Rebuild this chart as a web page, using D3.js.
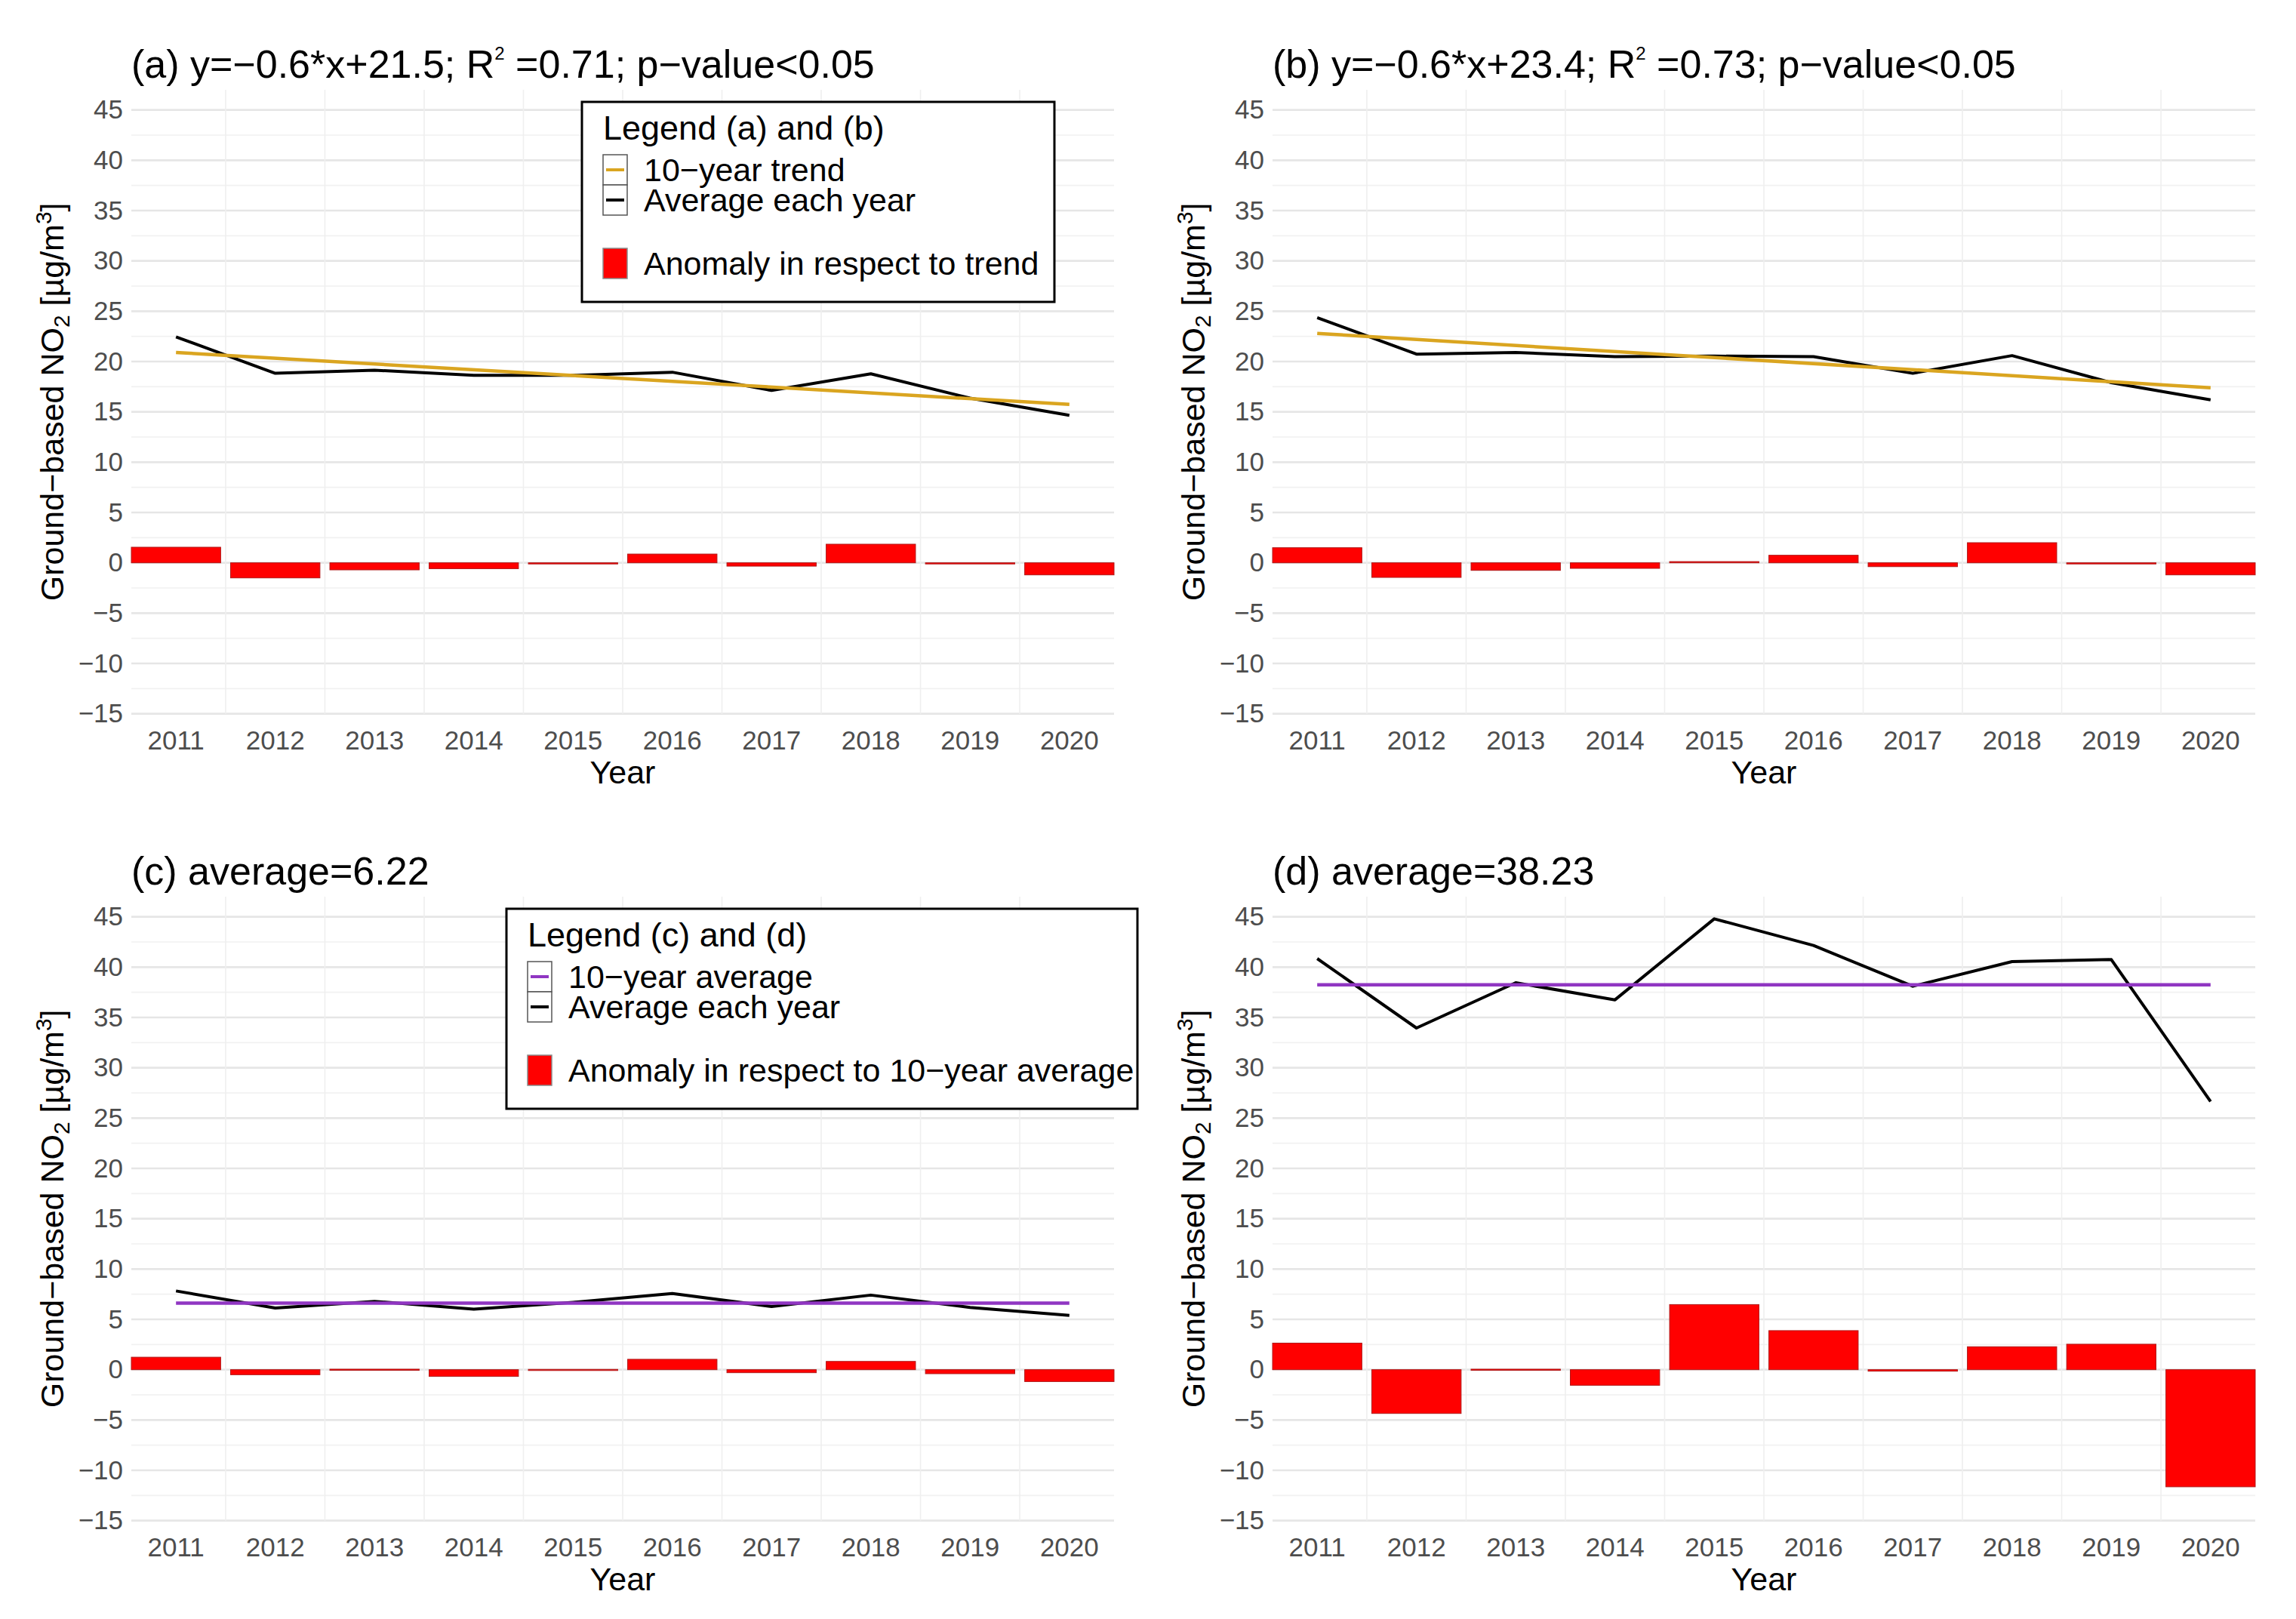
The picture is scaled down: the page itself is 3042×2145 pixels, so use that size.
<!DOCTYPE html>
<html>
<head>
<meta charset="utf-8">
<script src="https://cdn.jsdelivr.net/npm/d3@7"></script>
<style>
  body { margin: 0; background: #fff; }
  text { font-family: "Liberation Sans", Arial, Helvetica, sans-serif; }
</style>
</head>
<body>
<svg id="chart" width="3042" height="2145"></svg>
<script>
// years on the x axis
const years = ['2011', '2012', '2013', '2014', '2015', '2016', '2017', '2018', '2019', '2020'];
const yTicks = [-15, -10, -5, 0, 5, 10, 15, 20, 25, 30, 35, 40, 45];

// (a)
const avgA = [22.45, 18.83, 19.14, 18.63, 18.63, 18.94, 17.13, 18.78, 16.36, 14.65];
const trendA = [20.9, 15.74]; // 2011, 2020
const anomA = [1.55, -1.5, -0.7, -0.58, -0.03, 0.87, -0.33, 1.85, -0.04, -1.2];
// (b)
const avgB = [24.36, 20.74, 20.9, 20.49, 20.54, 20.49, 18.83, 20.59, 17.9, 16.2];
const trendB = [22.8, 17.39];
const anomB = [1.5, -1.45, -0.75, -0.55, 0.12, 0.75, -0.38, 2.0, -0.05, -1.2];
// (c)
const avgC = [7.82, 6.12, 6.79, 6.02, 6.69, 7.57, 6.28, 7.41, 6.18, 5.4];
const meanC = 6.62;
const anomC = [1.24, -0.5, 0.05, -0.67, 0.03, 1.03, -0.3, 0.82, -0.4, -1.18];
// (d)
const avgD = [40.85, 33.95, 38.45, 36.75, 44.8, 42.15, 38.1, 40.55, 40.75, 26.65];
const meanD = 38.25;
const anomD = [2.64, -4.35, 0.05, -1.55, 6.47, 3.88, -0.15, 2.28, 2.53, -11.64];

const titles = {
  a: ['(a) y=−0.6*x+21.5; R', '2', ' =0.71; p−value<0.05'],
  b: ['(b) y=−0.6*x+23.4; R', '2', ' =0.73; p−value<0.05'],
  c: ['(c) average=6.22'],
  d: ['(d) average=38.23']
};

const trendColor = '#daa520';
const meanColor = '#9036c2';

const svg = d3.select('#chart');
const panelW = 1302;
const yDomain = [-15, 47];
const unit = 800 / 60; // px per ug/m3

/**
 * draw one panel
 */
function drawPanel(cfg) {
    const left = cfg.left, top = cfg.top;
    const height = (yDomain[1] - yDomain[0]) * unit;
    const bottom = top + height;
    const g = svg.append('g').attr('id', 'panel-' + cfg.id);

    const x = d3.scaleBand().domain(years).range([left, left + panelW])
        .paddingInner(0.1).paddingOuter(0);
    const y = d3.scaleLinear().domain(yDomain).range([bottom, top]);

    // grid
    const grid = g.append('g').attr('class', 'grid');
    const minor = d3.range(yDomain[0] + 2.5, yDomain[1], 5);
    grid.selectAll('line.ymin').data(minor).enter().append('line')
        .attr('x1', left).attr('x2', left + panelW)
        .attr('y1', d => y(d)).attr('y2', d => y(d))
        .attr('stroke', '#f1f1f1').attr('stroke-width', 1.6);
    grid.selectAll('line.ymaj').data(yTicks).enter().append('line')
        .attr('x1', left).attr('x2', left + panelW)
        .attr('y1', d => y(d)).attr('y2', d => y(d))
        .attr('stroke', '#e6e6e6').attr('stroke-width', 2.6);
    grid.selectAll('line.xmin').data(years.slice(1)).enter().append('line')
        .attr('x1', d => x(d) - x.step() * 0.05).attr('x2', d => x(d) - x.step() * 0.05)
        .attr('y1', top).attr('y2', bottom)
        .attr('stroke', '#efefef').attr('stroke-width', 1.6);

    // anomaly bars
    g.append('g').selectAll('rect').data(cfg.anom).enter().append('rect')
        .attr('x', (d, i) => x(years[i]))
        .attr('width', x.bandwidth())
        .attr('y', d => y(Math.max(0, d)))
        .attr('height', d => Math.max(1.5, Math.abs(y(d) - y(0))))
        .attr('fill', '#ff0000')
        .attr('stroke', '#b01818').attr('stroke-width', 1);

    const cx = d => x(d) + x.bandwidth() / 2;

    // yearly average
    const line = d3.line().x((d, i) => cx(years[i])).y(d => y(d));
    g.append('path').datum(cfg.avg)
        .attr('d', line).attr('fill', 'none')
        .attr('stroke', '#000').attr('stroke-width', 4).attr('stroke-linejoin', 'round');

    // trend or 10-year average
    const ref = cfg.trend ? cfg.trend : [cfg.mean, cfg.mean];
    g.append('line')
        .attr('x1', cx(years[0])).attr('x2', cx(years[years.length - 1]))
        .attr('y1', y(ref[0])).attr('y2', y(ref[1]))
        .attr('stroke', cfg.trend ? trendColor : meanColor).attr('stroke-width', 4.5);

    // axes
    const ya = g.append('g').attr('transform', 'translate(' + (left - 11) + ',0)')
        .call(d3.axisLeft(y).tickValues(yTicks).tickSize(0).tickPadding(0));
    ya.select('.domain').remove();
    ya.selectAll('text').attr('font-size', 35).attr('fill', '#4d4d4d')
        .attr('font-family', '"Liberation Sans", Arial, sans-serif');

    const xa = g.append('g').attr('transform', 'translate(0,' + bottom + ')')
        .call(d3.axisBottom(x).tickSize(0).tickPadding(22));
    xa.select('.domain').remove();
    xa.selectAll('text').attr('font-size', 35).attr('fill', '#4d4d4d')
        .attr('font-family', '"Liberation Sans", Arial, sans-serif');

    g.append('text').attr('x', left + panelW / 2).attr('y', bottom + 92)
        .attr('text-anchor', 'middle').attr('font-size', 43).attr('fill', '#000')
        .text('Year');

    // y axis title
    const yt = g.append('text')
        .attr('transform', 'translate(' + (left - 90) + ',' + (top + height / 2) + ') rotate(-90)')
        .attr('text-anchor', 'middle').attr('font-size', 43).attr('fill', '#000');
    yt.append('tspan').text('Ground−based NO');
    yt.append('tspan').attr('font-size', 30).attr('dy', 8).text('2');
    yt.append('tspan').attr('dy', -8).text(' [µg/m');
    yt.append('tspan').attr('font-size', 30).attr('dy', -16).text('3');
    yt.append('tspan').attr('dy', 16).text(']');

    // title
    const parts = titles[cfg.id];
    const tt = g.append('text').attr('x', left).attr('y', top - 16)
        .attr('font-size', 52).attr('fill', '#000');
    tt.append('tspan').text(parts[0]);
    if (parts.length > 1) {
        tt.append('tspan').attr('font-size', 24).attr('dy', -24).text(parts[1]);
        tt.append('tspan').attr('dy', 24).text(parts[2]);
    }
}

/**
 * legend box
 */
function drawLegend(cfg) {
    const g = svg.append('g').attr('class', 'legend');
    g.append('rect').attr('x', cfg.x).attr('y', cfg.y).attr('width', cfg.w).attr('height', 265)
        .attr('fill', '#fff').attr('stroke', '#000').attr('stroke-width', 3);
    g.append('text').attr('x', cfg.x + 28).attr('y', cfg.y + 50)
        .attr('font-size', 45).text(cfg.title);
    const kx = cfg.x + 28, tx = cfg.x + 82;
    const rows = [
        {dy: 70, type: 'line', color: cfg.color, label: cfg.labels[0]},
        {dy: 110, type: 'line', color: '#000', label: cfg.labels[1]},
        {dy: 194, type: 'bar', color: '#ff0000', label: cfg.labels[2]}
    ];
    rows.forEach(r => {
        const ky = cfg.y + r.dy;
        g.append('rect').attr('x', kx).attr('y', ky).attr('width', 32).attr('height', 40)
            .attr('fill', r.type === 'bar' ? '#ff0000' : '#fff')
            .attr('stroke', r.type === 'bar' ? '#8a8a8a' : '#555').attr('stroke-width', 1.5);
        if (r.type === 'line') {
            g.append('line').attr('x1', kx + 4).attr('x2', kx + 28)
                .attr('y1', ky + 20).attr('y2', ky + 20)
                .attr('stroke', r.color).attr('stroke-width', 4);
        }
        g.append('text').attr('x', tx).attr('y', ky + 35)
            .attr('font-size', 43).text(r.label);
    });
}

drawPanel({id: 'a', left: 174, top: 119, avg: avgA, trend: trendA, anom: anomA});
drawPanel({id: 'b', left: 1686, top: 119, avg: avgB, trend: trendB, anom: anomB});
drawPanel({id: 'c', left: 174, top: 1188, avg: avgC, mean: meanC, anom: anomC});
drawPanel({id: 'd', left: 1686, top: 1188, avg: avgD, mean: meanD, anom: anomD});

drawLegend({x: 771, y: 135, w: 626, title: 'Legend (a) and (b)', color: trendColor,
    labels: ['10−year trend', 'Average each year', 'Anomaly in respect to trend']});
drawLegend({x: 671, y: 1204, w: 836, title: 'Legend (c) and (d)', color: meanColor,
    labels: ['10−year average', 'Average each year', 'Anomaly in respect to 10−year average']});
</script>
</body>
</html>
